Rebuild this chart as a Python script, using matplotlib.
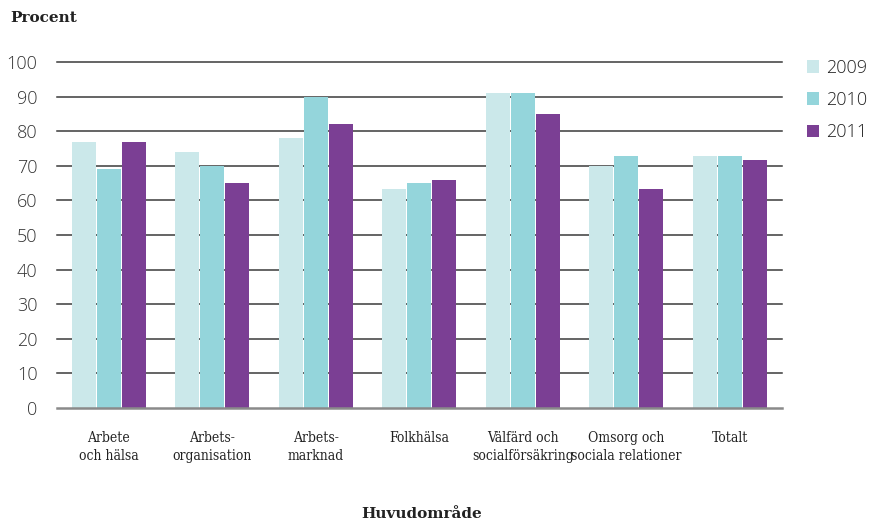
import matplotlib
matplotlib.use("Agg")
import matplotlib.pyplot as plt
import numpy as np

categories = ["Arbete\noch hälsa", "Arbets-\norganisation", "Arbets-\nmarknad", "Folkhälsa",
              "Välfärd och\nsocialförsäkring", "Omsorg och\nsociala relationer", "Totalt"]
years = ["2009", "2010", "2011"]
v2009 = [77, 74, 78, 63.3, 91, 70, 73]
v2010 = [69, 70, 90, 65, 91, 73, 73]
v2011 = [77, 65, 82, 66, 85, 63.3, 71.7]
yticks = [0, 10, 20, 30, 40, 50, 60, 70, 80, 90, 100]
colors = ["#CBE8EA", "#94D5DB", "#7B3F94"]

fig = plt.figure(figsize=(8.7, 5.21), dpi=100)
ax = fig.add_axes([0.0655, 0.2175, 0.833, 0.6629])

x = np.arange(len(categories))
w = 0.232
step = 0.242
for i, (vals, c, lab) in enumerate(zip([v2009, v2010, v2011], colors, years)):
    ax.bar(x + (i - 1) * step, vals, width=w, color=c, label=lab, zorder=3)

ax.set_xlim(-0.5, len(categories) - 0.5)
ax.set_ylim(0, 100)
ax.set_yticks(yticks)
for t in yticks[1:]:
    ax.axhline(t, color="#3a3a3a", lw=1.1, zorder=1, clip_on=False)
ax.axhline(0, color="#8a8a8a", lw=1.8, zorder=4, clip_on=False)
for s in ax.spines.values():
    s.set_visible(False)
ax.tick_params(axis="y", length=0, pad=14, labelsize=13, labelcolor="#333333")
ax.tick_params(axis="x", length=0, pad=17)
for lbl in ax.get_yticklabels():
    lbl.set_family("Open Sans")
    lbl.set_fontweight("light")
ax.set_xticks(x)
ax.set_xticklabels(categories, family="DejaVu Serif", fontsize=10,
                   color="#222222", linespacing=1.35)
for lbl in ax.get_xticklabels():
    lbl.set_fontstretch("condensed")

fig.text(0.012, 0.965, "Procent", family="DejaVu Serif", fontweight="bold", fontsize=11,
         va="center", ha="left", color="#222222")
fig.text(0.485, 0.014, "Huvudområde", family="DejaVu Serif", fontweight="bold", fontsize=11,
         va="center", ha="center", color="#222222")

leg = ax.legend(loc="upper left", bbox_to_anchor=(1.012, 1.058), frameon=False,
                prop={"family": "Open Sans", "size": 13, "weight": "light"},
                handlelength=0.7, handleheight=0.7,
                handletextpad=0.4, labelspacing=0.8)
for t in leg.get_texts():
    t.set_color("#222222")

fig.savefig("out.png", dpi=100)
